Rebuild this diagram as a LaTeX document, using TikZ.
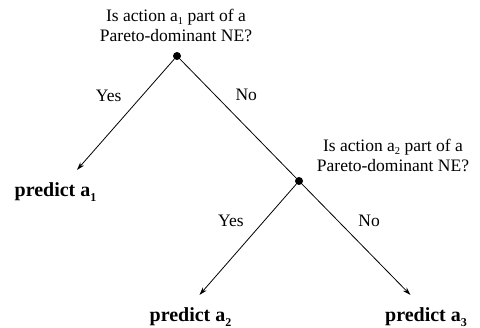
\documentclass[tikz,border=0pt]{standalone}
\usepackage{fontspec}
\setmainfont{Liberation Serif}
\usetikzlibrary{arrows.meta,positioning}
\newcommand{\actsub}[1]{\raisebox{-0.45ex}{\fontsize{0.6em}{0.6em}\selectfont #1}}

\begin{document}
\begin{tikzpicture}[x=1pt,y=-1pt,
  choice/.style={circle,fill=black,inner sep=0pt,minimum size=8pt},
  question/.style={align=center,inner sep=0pt,font=\fontsize{17.5}{20}\selectfont},
  leaf/.style={inner xsep=1pt,inner ysep=13pt,font=\fontsize{20}{24}\selectfont\bfseries},
  answer/.style={font=\fontsize{17.5}{20}\selectfont},
  branch/.style={line width=0.8pt},
  arrow/.style={branch,-{Stealth[length=8pt,width=5pt]}}]
  \useasboundingbox (0,0) rectangle (480,328);
  % Decision points
  \node[choice] (d1) at (177,56) {};
  \node[choice] (d2) at (299,181) {};
  % Questions
  \node[question] (q1) at (176,25) {Is action a\actsub{1} part of a\\Pareto-dominant NE?};
  \node[question] (q2) at (393,155) {Is action a\actsub{2} part of a\\Pareto-dominant NE?};
  % Predictions
  \node[leaf,anchor=base] (p1) at (55.5,197) {predict a\actsub{1}};
  \node[leaf,anchor=base] (p2) at (190.5,322) {predict a\actsub{2}};
  \node[leaf,anchor=base] (p3) at (426,322) {predict a\actsub{3}};
  % Branches
  \draw[arrow] (d1) -- node[answer,pos=.33,left=17pt] {Yes} (p1.46);
  \draw[branch] (d1) -- node[answer,pos=.3,right=17pt] {No} (d2);
  \draw[arrow] (d2) -- node[answer,pos=.33,left=17pt] {Yes} (p2.68);
  \draw[arrow] (d2) -- node[answer,pos=.33,right=17pt] {No} (p3.125);
\end{tikzpicture}
\end{document}
